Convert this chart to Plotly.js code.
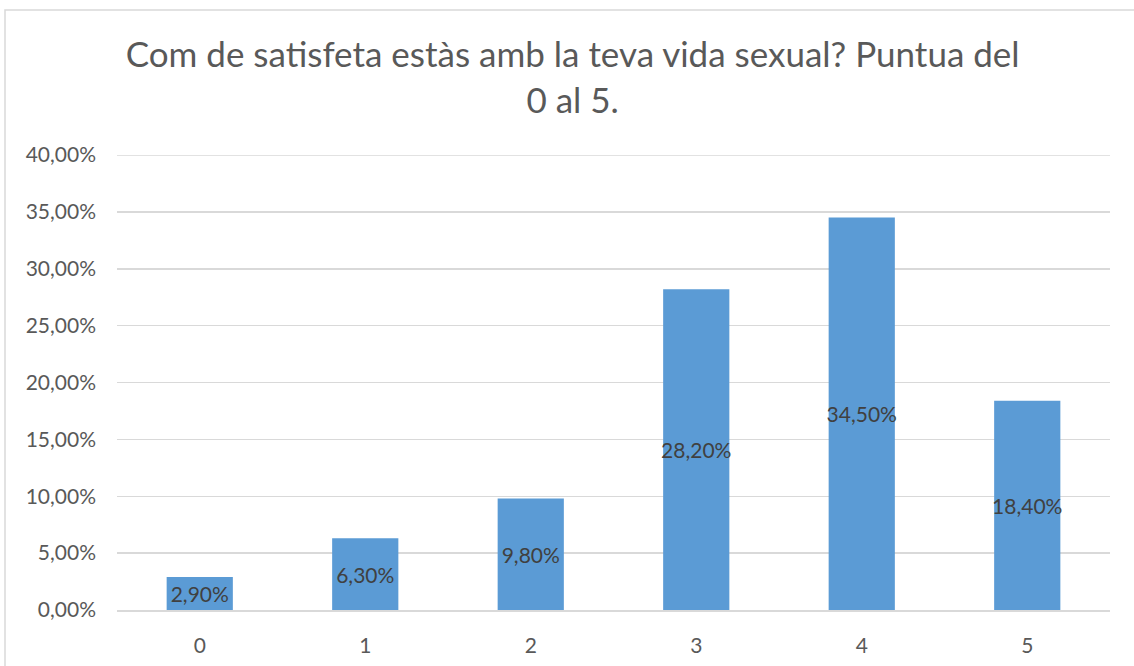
<!DOCTYPE html>
<html>
<head>
<meta charset="utf-8">
<script src="https://cdn.plot.ly/plotly-3.0.1.min.js"></script>
<style>
html,body{margin:0;padding:0;background:#fff;}
#chart{width:1134px;height:666px;}
</style>
</head>
<body>
<div id="chart"></div>
<script>
var categories = ["0", "1", "2", "3", "4", "5"];
var values = [0.029, 0.063, 0.098, 0.282, 0.345, 0.184];
var yRange = [0, 0.4];
var titleText = "Com de satisfeta estàs amb la teva vida sexual? Puntua del<br>0 al 5.";

var trace = {
  type: "bar",
  x: categories,
  y: values,
  marker: {color: "#5B9BD5"},
  texttemplate: "%{y:.2%}",
  textposition: "inside",
  insidetextanchor: "middle",
  constraintext: "none",
  textangle: 0,
  textfont: {family: "Lato, 'Open Sans', sans-serif", size: 21, color: "#404040"},
  hoverinfo: "none"
};

var layout = {
  width: 1134,
  height: 666,
  margin: {l: 117, r: 24, t: 155, b: 56},
  paper_bgcolor: "#ffffff",
  plot_bgcolor: "#ffffff",
  separators: ",.",
  bargap: 0.6,
  showlegend: false,
  font: {family: "Lato, 'Open Sans', sans-serif", color: "#595959"},
  title: {
    text: titleText,
    font: {family: "Lato, 'Open Sans', sans-serif", size: 35, color: "#595959"},
    x: 0.505,
    xanchor: "center",
    y: 1 - 67/666,
    yanchor: "middle"
  },
  xaxis: {
    type: "category",
    showgrid: false,
    showline: true,
    linecolor: "#d9d9d9",
    linewidth: 1.5,
    ticks: "",
    tickfont: {size: 21, color: "#595959"},
    ticklabelstandoff: 16
  },
  yaxis: {
    range: yRange,
    dtick: 0.05,
    tickformat: ".2%",
    showgrid: true,
    gridcolor: "#d9d9d9",
    gridwidth: 1.5,
    zeroline: false,
    showline: false,
    ticks: "",
    tickfont: {size: 21, color: "#595959"},
    ticklabelstandoff: 20
  },
  shapes: [{
    type: "rect",
    xref: "paper", yref: "paper",
    x0: (5 - 117) / 993, x1: 1.05,
    y0: -0.3, y1: (610 - 10) / 455,
    line: {color: "#d9d9d9", width: 1.5},
    fillcolor: "rgba(0,0,0,0)",
    layer: "below"
  }, {
    type: "line",
    xref: "paper", yref: "y",
    x0: 0, x1: 1,
    y0: yRange[1], y1: yRange[1],
    line: {color: "#d9d9d9", width: 1.5},
    layer: "below"
  }]
};

Plotly.newPlot("chart", [trace], layout, {displayModeBar: false, staticPlot: true});
</script>
</body>
</html>
